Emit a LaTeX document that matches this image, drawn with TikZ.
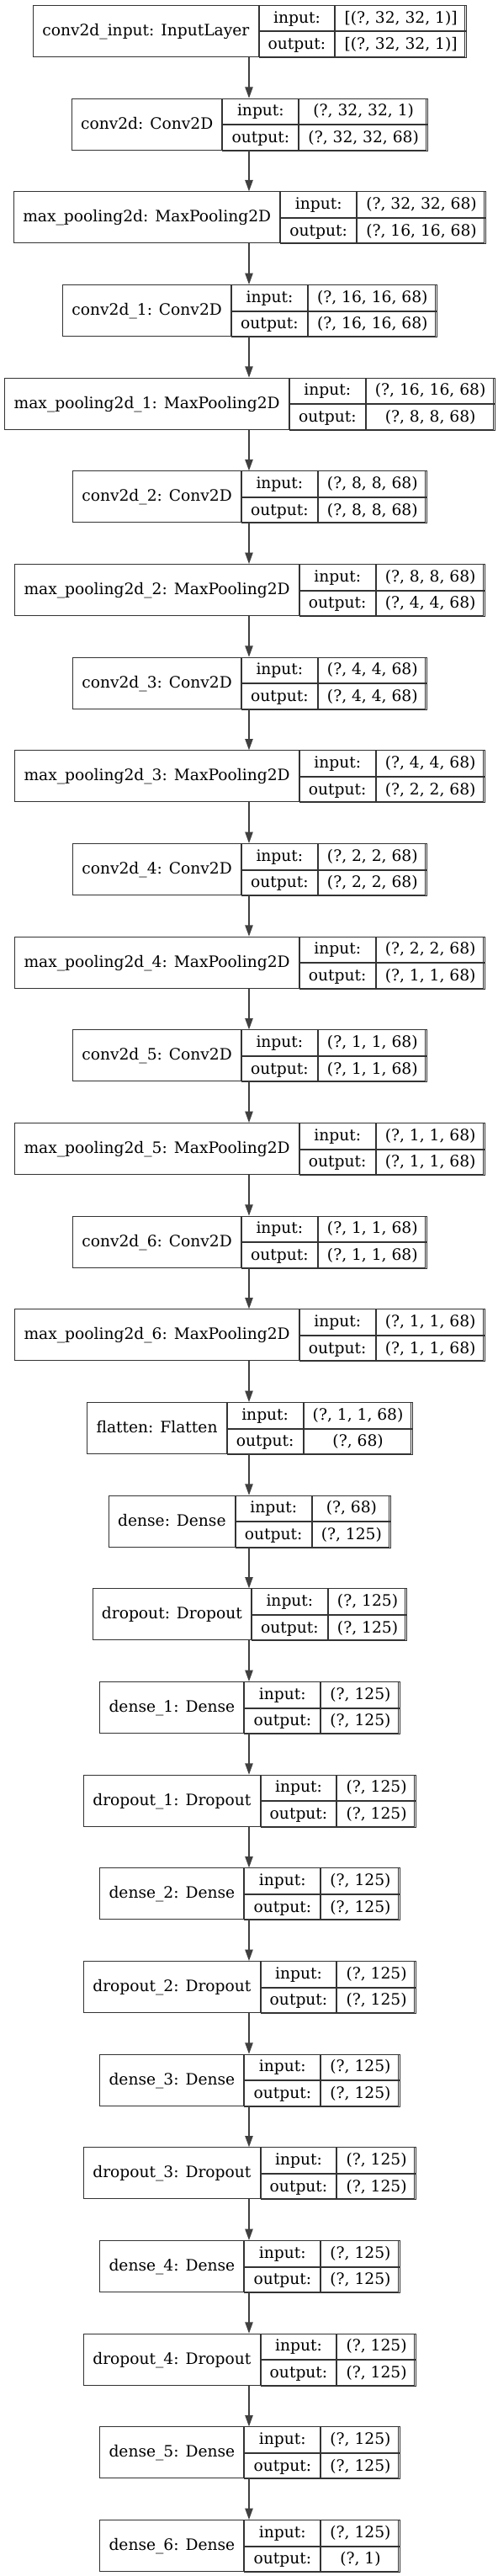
\documentclass[tikz,border=0pt]{standalone}
\usepackage{fontspec}
\setmainfont{DejaVu Serif}
\usetikzlibrary{arrows.meta}
\newlength\wlab \newlength\wmid \newlength\wval \newlength\wvalb
\newcommand\lf{\fontsize{14}{16.8}\selectfont}
\tikzset{
  boxfr/.style={draw=black!80, line width=0.75pt, inner sep=0pt, minimum height=45.75pt},
  cell/.style={draw=black!80, line width=0.75pt, inner sep=0pt, font=\lf, text height=10.2pt, text depth=2pt},
  arr/.style={draw=black!75, line width=1pt, -{Triangle[length=10pt,width=7pt]}}
}
\newcommand\layer[5]{%
  \pgfinterruptpicture
  \settowidth\wlab{\lf #3}\addtolength\wlab{16pt}\global\wlab=\wlab
  \settowidth\wmid{\lf output:}\addtolength\wmid{16pt}\global\wmid=\wmid
  \settowidth\wval{\lf #4}\settowidth\wvalb{\lf #5}%
  \ifdim\wvalb>\wval \wval=\wvalb\fi \addtolength\wval{16pt}\global\wval=\wval
  \endpgfinterruptpicture
  \pgfmathsetlengthmacro\tot{\wlab+\wmid+\wval}%
  \pgfmathsetlengthmacro\ytop{-4.5pt-83pt*#2}%
  \node[boxfr, minimum width=\tot, anchor=north] (#1) at (222pt,\ytop) {};
  \node[cell, minimum width=\wlab, minimum height=45.75pt, anchor=north west] (#1-l) at (#1.north west) {#3};
  \node[cell, minimum width=\wmid, minimum height=22.875pt, anchor=north west] (#1-i) at (#1-l.north east) {input:};
  \node[cell, minimum width=\wmid, minimum height=22.875pt, anchor=north west] (#1-o) at (#1-i.south west) {output:};
  \node[cell, minimum width=\wval, minimum height=22.875pt, anchor=north west] (#1-iv) at (#1-i.north east) {#4};
  \node[cell, minimum width=\wval, minimum height=22.875pt, anchor=north west] (#1-ov) at (#1-iv.south west) {#5};
}
\begin{document}
\begin{tikzpicture}
\useasboundingbox (0,0) rectangle (444pt,-2295.75pt);
\layer{n0}{0}{conv2d\_input: InputLayer}{[(?, 32, 32, 1)]}{[(?, 32, 32, 1)]}
\layer{n1}{1}{conv2d: Conv2D}{(?, 32, 32, 1)}{(?, 32, 32, 68)}
\layer{n2}{2}{max\_pooling2d: MaxPooling2D}{(?, 32, 32, 68)}{(?, 16, 16, 68)}
\layer{n3}{3}{conv2d\_1: Conv2D}{(?, 16, 16, 68)}{(?, 16, 16, 68)}
\layer{n4}{4}{max\_pooling2d\_1: MaxPooling2D}{(?, 16, 16, 68)}{(?, 8, 8, 68)}
\layer{n5}{5}{conv2d\_2: Conv2D}{(?, 8, 8, 68)}{(?, 8, 8, 68)}
\layer{n6}{6}{max\_pooling2d\_2: MaxPooling2D}{(?, 8, 8, 68)}{(?, 4, 4, 68)}
\layer{n7}{7}{conv2d\_3: Conv2D}{(?, 4, 4, 68)}{(?, 4, 4, 68)}
\layer{n8}{8}{max\_pooling2d\_3: MaxPooling2D}{(?, 4, 4, 68)}{(?, 2, 2, 68)}
\layer{n9}{9}{conv2d\_4: Conv2D}{(?, 2, 2, 68)}{(?, 2, 2, 68)}
\layer{n10}{10}{max\_pooling2d\_4: MaxPooling2D}{(?, 2, 2, 68)}{(?, 1, 1, 68)}
\layer{n11}{11}{conv2d\_5: Conv2D}{(?, 1, 1, 68)}{(?, 1, 1, 68)}
\layer{n12}{12}{max\_pooling2d\_5: MaxPooling2D}{(?, 1, 1, 68)}{(?, 1, 1, 68)}
\layer{n13}{13}{conv2d\_6: Conv2D}{(?, 1, 1, 68)}{(?, 1, 1, 68)}
\layer{n14}{14}{max\_pooling2d\_6: MaxPooling2D}{(?, 1, 1, 68)}{(?, 1, 1, 68)}
\layer{n15}{15}{flatten: Flatten}{(?, 1, 1, 68)}{(?, 68)}
\layer{n16}{16}{dense: Dense}{(?, 68)}{(?, 125)}
\layer{n17}{17}{dropout: Dropout}{(?, 125)}{(?, 125)}
\layer{n18}{18}{dense\_1: Dense}{(?, 125)}{(?, 125)}
\layer{n19}{19}{dropout\_1: Dropout}{(?, 125)}{(?, 125)}
\layer{n20}{20}{dense\_2: Dense}{(?, 125)}{(?, 125)}
\layer{n21}{21}{dropout\_2: Dropout}{(?, 125)}{(?, 125)}
\layer{n22}{22}{dense\_3: Dense}{(?, 125)}{(?, 125)}
\layer{n23}{23}{dropout\_3: Dropout}{(?, 125)}{(?, 125)}
\layer{n24}{24}{dense\_4: Dense}{(?, 125)}{(?, 125)}
\layer{n25}{25}{dropout\_4: Dropout}{(?, 125)}{(?, 125)}
\layer{n26}{26}{dense\_5: Dense}{(?, 125)}{(?, 125)}
\layer{n27}{27}{dense\_6: Dense}{(?, 125)}{(?, 1)}
\foreach \a [evaluate=\a as \b using int(\a+1)] in {0,...,26}
  \draw[arr] (n\a.south) -- (n\b.north);
\end{tikzpicture}
\end{document}
